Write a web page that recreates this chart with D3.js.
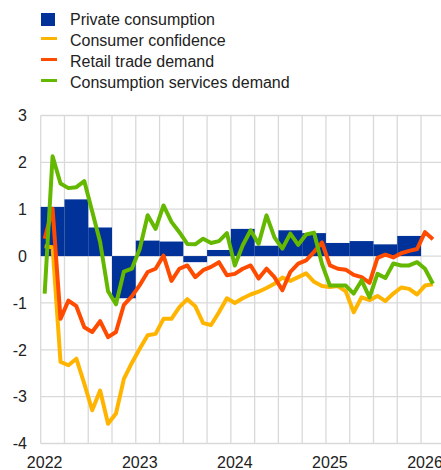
<!DOCTYPE html>
<html>
<head>
<meta charset="utf-8">
<title>consumption</title>
<script src="https://cdnjs.cloudflare.com/ajax/libs/d3/7.8.5/d3.min.js"></script>
<style>
  body { margin: 0; background: #fff; }
  svg { font-family: "Liberation Sans", Arial, sans-serif; }
  .grid line { stroke: #d9d9d9; stroke-width: 1.3; }
  .lbl { font-size: 16px; fill: #222; }
</style>
</head>
<body>
<div id="chart"></div>
<script>
// legend names
var seriesNames = ["Private consumption", "Consumer confidence", "Retail trade demand", "Consumption services demand"];

// quarterly bars, Q1 2022 .. Q4 2025
var privateConsumption = [1.05, 1.21, 0.61, -0.90, 0.33, 0.31, -0.13, 0.13, 0.58, 0.22, 0.55, 0.49, 0.28, 0.32, 0.25, 0.43];

// monthly lines, Jan 2022 .. Feb 2026
var consumerConfidence = [0.21, 0.19, -2.26, -2.33, -2.19, -2.72, -3.29, -2.87, -3.58, -3.36, -2.62, -2.28,
  -1.98, -1.69, -1.66, -1.34, -1.34, -1.09, -0.92, -1.07, -1.43, -1.47, -1.20, -0.90,
  -1.00, -0.90, -0.82, -0.76, -0.68, -0.59, -0.46, -0.53, -0.45, -0.37, -0.55, -0.64,
  -0.66, -0.64, -0.75, -1.20, -0.88, -0.94, -0.85, -0.96, -0.80, -0.67, -0.70, -0.82,
  -0.63, -0.60];
var retailDemand = [0.37, 1.01, -1.34, -0.95, -1.07, -1.52, -1.62, -1.39, -1.73, -1.62, -1.04, -0.86,
  -0.62, -0.34, -0.27, 0.01, -0.53, -0.27, -0.20, -0.45, -0.30, -0.23, -0.13, -0.41,
  -0.38, -0.27, -0.20, -0.48, -0.27, -0.45, -0.73, -0.34, -0.16, -0.09, 0.09, 0.29,
  -0.20, -0.27, -0.29, -0.40, -0.45, -0.57, -0.04, 0.03, -0.03, 0.06, 0.11, 0.15,
  0.51, 0.36];
var servicesDemand = [-0.80, 2.13, 1.55, 1.45, 1.47, 1.60, 0.95, 0.30, -0.75, -1.03, -0.33, -0.27,
  0.15, 0.87, 0.58, 1.08, 0.73, 0.51, 0.26, 0.25, 0.37, 0.28, 0.32, 0.49,
  -0.20, 0.23, 0.55, 0.26, 0.87, 0.40, 0.16, 0.48, 0.24, 0.46, 0.50, -0.17,
  -0.63, -0.63, -0.63, -0.80, -0.52, -0.88, -0.38, -0.47, -0.16, -0.20, -0.20, -0.13,
  -0.27, -0.59];

var yTicks = [-4, -3, -2, -1, 0, 1, 2, 3];
var yearLabels = ["2022", "2023", "2024", "2025", "2026"];

var colors = ["#003299", "#ffb400", "#ff4b00", "#65b800"];

var W = 441, H = 470;
var plotL = 40.7, plotR = 444.8, plotT = 115.5, plotB = 443.5;

// month categories Jan 2022 .. Mar 2026
var months = d3.timeMonth.range(new Date(2022, 0, 1), new Date(2026, 3, 1));
var monthKey = d3.timeFormat("%Y-%m");

var x = d3.scaleBand()
  .domain(months.map(monthKey))
  .range([plotL, plotR])
  .padding(0);
var y = d3.scaleLinear().domain([-4, 3]).range([plotB, plotT]);

var svg = d3.select("#chart").append("svg")
  .attr("width", W)
  .attr("height", H);

// grid
var grid = svg.append("g").attr("class", "grid");
grid.selectAll(".h").data(yTicks).enter().append("line")
  .attr("x1", plotL).attr("x2", W)
  .attr("y1", function(d) { return y(d); })
  .attr("y2", function(d) { return y(d); });
var quarterStarts = months.filter(function(d) { return d.getMonth() % 3 == 0; });
grid.selectAll(".v").data(quarterStarts).enter().append("line")
  .attr("x1", function(d) { return x(monthKey(d)); })
  .attr("x2", function(d) { return x(monthKey(d)); })
  .attr("y1", plotT).attr("y2", plotB);

// bars (one per quarter, spanning three months)
svg.append("g").selectAll("rect")
  .data(privateConsumption)
  .enter().append("rect")
  .attr("x", function(d, i) { return x(monthKey(months[i * 3])); })
  .attr("width", x.bandwidth() * 3)
  .attr("y", function(d) { return y(Math.max(0, d)); })
  .attr("height", function(d) { return Math.abs(y(d) - y(0)); })
  .attr("fill", colors[0]);

// lines
var line = d3.line()
  .x(function(d, i) { return x(monthKey(months[i])) + x.bandwidth() / 2; })
  .y(function(d) { return y(d); });

[consumerConfidence, retailDemand, servicesDemand].forEach(function(s, k) {
  svg.append("path")
    .datum(s)
    .attr("fill", "none")
    .attr("stroke", colors[k + 1])
    .attr("stroke-width", 4)
    .attr("stroke-linejoin", "round")
    .attr("d", line);
});

// y labels
svg.append("g").selectAll("text")
  .data(yTicks)
  .enter().append("text")
  .attr("class", "lbl")
  .attr("x", 27)
  .attr("y", function(d) { return y(d); })
  .attr("dy", "0.36em")
  .attr("text-anchor", "end")
  .text(function(d) { return d; });

// x labels centred on January of each year
svg.append("g").selectAll("text")
  .data(yearLabels)
  .enter().append("text")
  .attr("class", "lbl")
  .attr("x", function(d) { return x(d + "-01") + x.bandwidth() / 2; })
  .attr("y", 468)
  .attr("text-anchor", "middle")
  .text(function(d) { return d; });

// legend
var legend = svg.append("g").selectAll("g")
  .data(seriesNames)
  .enter().append("g")
  .attr("transform", function(d, i) { return "translate(0," + (19.5 + i * 21) + ")"; });

legend.filter(function(d, i) { return i == 0; }).append("rect")
  .attr("x", 41).attr("y", -6.5)
  .attr("width", 14).attr("height", 13)
  .attr("fill", colors[0]);
legend.filter(function(d, i) { return i > 0; }).append("line")
  .attr("x1", 41).attr("x2", 57)
  .attr("y1", -2).attr("y2", -2)
  .attr("stroke-width", 3)
  .attr("stroke", function(d) { return colors[seriesNames.indexOf(d)]; });

legend.append("text")
  .attr("class", "lbl")
  .attr("x", 70)
  .attr("dy", "0.36em")
  .text(function(d) { return d; });
</script>
</body>
</html>
